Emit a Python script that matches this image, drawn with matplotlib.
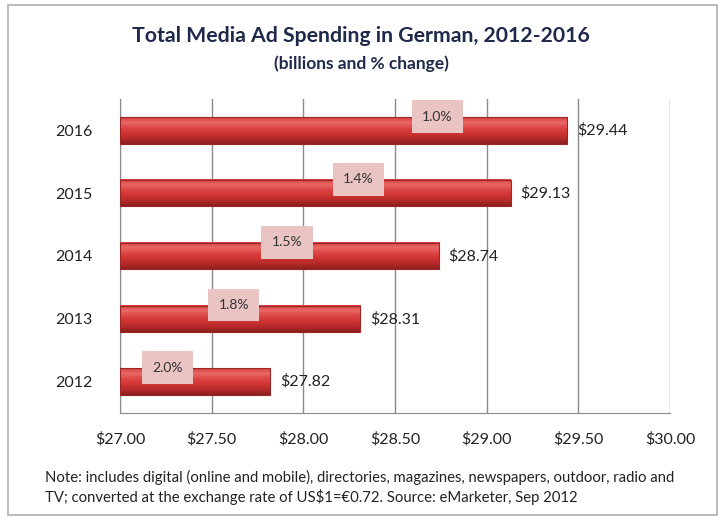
import matplotlib.pyplot as plt
import numpy as np
from matplotlib.colors import LinearSegmentedColormap
from matplotlib.patches import Rectangle

# data
years = ['2012', '2013', '2014', '2015', '2016']
spend = [27.82, 28.31, 28.74, 29.13, 29.44]
pct_change = ['2.0%', '1.8%', '1.5%', '1.4%', '1.0%']
# where the % boxes sit along the x axis
pct_x = [27.26, 27.62, 27.91, 28.30, 28.73]
xticks = [27.0, 27.5, 28.0, 28.5, 29.0, 29.5, 30.0]

plt.rcParams['font.family'] = ['Lato', 'DejaVu Sans']

fig = plt.figure(figsize=(7.22, 5.2), dpi=100)
ax = fig.add_axes([0.1662, 0.2058, 0.7618, 0.6038])

# vertical red gradient for the bars (bottom -> top)
cmap = LinearSegmentedColormap.from_list(
    'bar', ['#8e1f1f', '#b52a2a', '#cf3433', '#dc4645', '#e86866', '#d7403e'])
grad = np.linspace(0, 1, 64).reshape(-1, 1)

h = 0.42
xmin = xticks[0]
for i, v in enumerate(spend):
    ax.imshow(grad, cmap=cmap, origin='lower', aspect='auto',
              extent=(xmin, v, i - h / 2, i + h / 2), zorder=3)
    ax.add_patch(Rectangle((xmin, i - h / 2), v - xmin, h, fill=False,
                           edgecolor='#9b2626', linewidth=0.8, zorder=4))
    ax.annotate('$%.2f' % v, (v, i), xytext=(7, 0), textcoords='offset points',
                va='center', ha='left', fontsize=11.5, color='#222222')
    ax.text(pct_x[i], i + 0.22, pct_change[i], ha='center', va='center',
            fontsize=10, color='#333333', zorder=5,
            bbox=dict(boxstyle='square,pad=0.75', facecolor='#e9c4c3',
                      edgecolor='none'))

ax.set_xlim(27, 30)
ax.set_ylim(-0.5, 4.5)
ax.set_xticks(xticks)
ax.set_xticklabels(['$%.2f' % t for t in xticks], fontsize=11.5, color='#222222')
ax.set_yticks(range(len(years)))
ax.set_yticklabels(years, fontsize=11.5, color='#222222')
ax.tick_params(axis='both', length=0)
ax.tick_params(axis='x', pad=14)
ax.tick_params(axis='y', pad=20)
ax.grid(axis='x', color='#8a8a8a', linewidth=1, zorder=0)
ax.set_axisbelow(True)
for s in ['top', 'right']:
    ax.spines[s].set_visible(False)
for s in ['left', 'bottom']:
    ax.spines[s].set_color('#8a8a8a')

fig.text(0.5, 0.93, 'Total Media Ad Spending in German, 2012-2016',
         ha='center', va='center', fontsize=15.3, fontweight='bold', color='#1f2a4a')
fig.text(0.5, 0.878, '(billions and % change)', ha='center', va='center',
         fontsize=12.5, fontweight='bold', color='#1f2a4a')

fig.text(0.063, 0.0625, 'Note: includes digital (online and mobile), directories, magazines, '
         'newspapers, outdoor, radio and\nTV; converted at the exchange rate of '
         'US$1=\u20ac0.72. Source: eMarketer, Sep 2012',
         ha='left', va='center', fontsize=10.7, color='#222222', linespacing=1.3)

# outer frame
fig.patches.append(Rectangle((0.011, 0.01), 0.982, 0.98, transform=fig.transFigure,
                             fill=False, edgecolor='#b0b0b0', linewidth=1.2))

fig.savefig('out.png', dpi=100)
